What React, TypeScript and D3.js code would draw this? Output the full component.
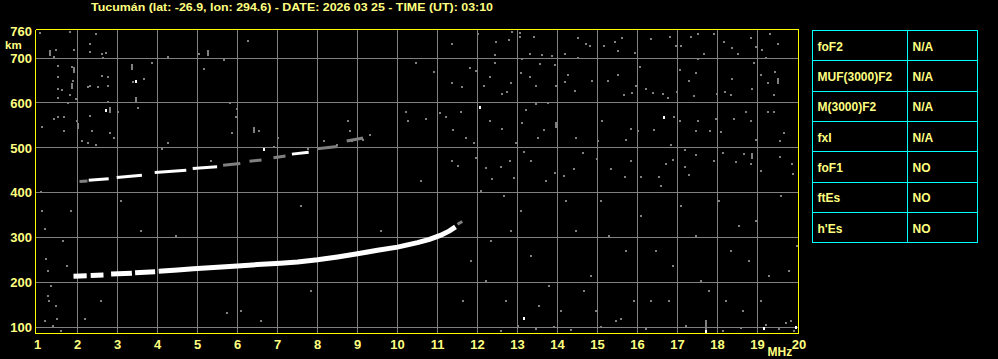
import React from 'react';
import * as d3 from 'd3';

const TITLE = 'Tucumán (lat: -26.9, lon: 294.6) - DATE: 2026 03 25 - TIME (UT): 03:10';
const freqTicks = [1, 2, 3, 4, 5, 6, 7, 8, 9, 10, 11, 12, 13, 14, 15, 16, 17, 18, 19, 20];
const heightTicks = [100, 200, 300, 400, 500, 600, 700];
const topHeightLabel = 760;

const paramNames = ['foF2', 'MUF(3000)F2', 'M(3000)F2', 'fxI', 'foF1', 'ftEs', "h'Es"];
const paramValues = ['N/A', 'N/A', 'N/A', 'N/A', 'NO', 'NO', 'NO'];

// F-layer trace (frequency MHz, virtual height km), split where the echo is broken
const fTraceSegments: [number, number][][] = [
  [[1.9, 214], [2.23, 215]],
  [[2.33, 216], [2.65, 217]],
  [[2.84, 219], [3.36, 221]],
  [[3.44, 222], [3.94, 224]],
  [[4.03, 225], [4.5, 228], [4.9, 231], [5.5, 234], [6.0, 237], [6.5, 240], [7.07, 243], [7.5, 246],
   [8.0, 251], [8.5, 257], [9.0, 264], [9.5, 272], [10.0, 279], [10.5, 289], [10.8, 296],
   [11.07, 305], [11.3, 315], [11.45, 324]],
];

// second-hop echo
const hopWhiteSegments: [number, number][][] = [
  [[2.28, 428], [2.78, 431]],
  [[2.98, 434], [3.61, 439]],
  [[3.93, 445], [4.72, 450]],
  [[4.88, 454], [5.49, 458]],
  [[7.36, 486], [7.78, 490]],
];
const hopGraySegments: [number, number][][] = [
  [[2.05, 425], [2.25, 426]],
  [[5.64, 461], [6.07, 465]],
  [[6.3, 470], [6.6, 473]],
  [[6.9, 478], [7.2, 482]],
  [[7.99, 498], [8.5, 503]],
  [[8.73, 515], [9.14, 522]],
  [[11.5, 330], [11.62, 336]],
];

const noiseDots: [number, number][] = [
  [1.03, 757], [1.44, 719], [1.38, 705], [1.78, 759], [1.88, 719], [2.29, 733], [2.43, 755], [2.29, 715],
  [2.59, 711], [2.62, 702], [2.69, 714], [1.49, 685], [1.84, 682], [1.49, 660], [1.86, 650], [1.49, 633],
  [1.59, 630], [1.78, 619], [1.49, 614], [1.94, 611], [1.74, 602], [2.59, 663], [2.73, 660], [2.29, 641],
  [2.24, 637], [2.49, 637], [2.73, 641], [2.73, 605], [3.37, 648], [3.64, 655], [3.84, 690], [3.49, 592],
  [4.24, 705], [5.0, 711], [5.13, 677], [5.63, 697], [6.23, 741], [5.78, 602], [5.97, 588], [5.94, 570],
  [5.84, 535], [6.98, 525], [6.88, 503], [7.73, 499], [8.13, 517], [8.27, 502], [8.47, 508], [8.83, 517],
  [9.12, 519], [9.29, 530], [8.79, 540], [8.74, 561], [10.19, 583], [10.24, 561], [10.44, 690],
  [1.09, 548], [1.38, 566], [1.49, 570], [1.64, 570], [1.64, 539], [1.95, 561], [2.29, 574], [2.34, 539],
  [2.09, 517], [2.24, 513], [2.44, 508], [2.78, 535], [2.89, 525], [2.98, 583], [4.24, 513], [4.09, 500],
  [11.34, 733], [11.98, 755], [12.4, 709], [12.44, 737], [12.75, 743], [12.84, 759], [13.04, 757],
  [13.04, 750], [13.38, 750], [13.09, 700], [13.29, 711], [13.58, 708], [13.83, 706], [14.15, 711],
  [14.48, 746], [14.48, 702], [14.69, 733], [14.79, 728], [15.13, 730], [15.4, 737], [15.49, 718],
  [15.59, 746], [15.9, 714], [16.32, 745], [16.78, 748], [16.94, 730], [17.07, 728], [17.32, 750],
  [17.49, 755], [17.49, 699], [17.64, 711], [17.89, 755], [18.14, 737], [18.34, 724], [18.49, 711],
  [18.82, 746], [18.94, 726], [19.08, 720], [19.19, 703], [19.29, 755], [19.48, 733],
  [10.88, 671], [11.34, 646], [11.59, 637], [11.79, 680], [11.94, 674], [12.13, 641], [12.28, 659],
  [12.42, 690], [12.58, 622], [12.72, 626], [12.8, 646], [13.05, 668], [13.29, 659], [13.43, 641],
  [13.53, 688], [13.92, 687], [13.94, 640], [14.17, 648], [14.24, 665], [14.4, 628], [14.84, 650],
  [15.24, 650], [15.49, 665], [15.64, 620], [15.84, 624], [15.93, 641], [16.03, 682], [16.19, 634],
  [16.37, 624], [16.61, 622], [16.73, 614], [16.95, 626], [17.03, 676], [17.27, 650], [17.38, 618],
  [17.44, 668], [17.97, 622], [18.17, 626], [18.32, 620], [18.34, 655], [18.84, 634], [18.89, 690],
  [19.05, 665], [19.24, 646], [19.39, 619], [19.4, 672],
  [10.69, 567], [11.03, 580], [11.19, 570], [11.36, 543], [11.55, 583], [11.69, 525], [11.89, 513],
  [12.29, 561], [12.58, 544], [12.94, 513], [13.09, 557], [13.19, 587], [13.44, 600], [13.49, 525],
  [13.64, 541], [13.74, 602], [14.44, 525], [14.98, 517], [15.09, 561], [15.69, 520], [15.8, 544],
  [15.98, 539], [16.39, 541], [16.9, 570], [17.03, 561], [16.8, 508], [17.15, 498], [17.44, 539],
  [17.49, 561], [17.78, 539], [17.94, 567], [18.07, 537], [18.39, 567], [18.69, 583], [18.8, 561],
  [18.94, 520], [19.24, 583], [19.39, 583], [19.53, 517], [19.64, 535],
  [11.34, 472], [11.49, 461], [11.94, 480], [12.19, 457], [12.34, 432], [12.57, 459], [12.78, 472],
  [12.88, 435], [13.13, 494], [13.32, 472], [13.9, 446], [14.14, 439], [14.39, 456], [14.61, 491],
  [14.97, 477], [15.3, 456], [15.65, 437], [15.8, 472], [16.05, 437], [16.5, 437], [16.69, 466],
  [16.86, 476], [17.15, 459], [17.27, 441], [17.44, 486], [17.89, 472], [18.11, 491], [18.44, 471],
  [18.63, 488], [18.82, 466], [19.05, 450], [19.53, 481], [19.84, 466], [19.86, 443],
  [1.09, 361], [1.17, 321], [1.19, 254], [1.24, 228], [1.32, 194], [1.27, 161], [1.44, 150], [1.17, 117],
  [1.37, 106], [1.57, 95], [1.07, 405], [1.62, 294], [1.72, 239], [1.47, 121], [1.24, 172], [2.17, 121],
  [2.57, 161], [1.82, 361], [4.44, 306], [5.72, 134], [3.57, 316], [5.32, 472], [6.5, 539], [3.07, 383],
  [7.57, 372], [9.57, 317], [10.57, 428], [6.57, 117], [7.82, 183], [6.07, 139],
  [12.07, 406], [12.32, 294], [12.69, 161], [13.07, 361], [13.32, 261], [13.69, 428], [14.07, 139],
  [14.44, 317], [14.82, 217], [15.07, 383], [15.44, 117], [15.69, 272], [16.07, 350], [16.32, 161],
  [16.57, 417], [16.87, 239], [17.19, 106], [17.44, 306], [17.77, 183], [18.02, 383], [18.32, 272],
  [18.62, 139], [18.94, 339], [19.27, 217], [19.57, 394], [19.82, 117], [19.97, 283], [11.82, 250],
  [11.62, 161], [12.57, 94], [12.99, 106], [13.44, 99], [13.89, 103], [14.32, 97], [15.07, 103],
  [15.57, 121], [16.19, 99], [18.12, 94], [18.57, 101], [19.19, 108], [19.52, 99], [19.69, 112],
  [19.89, 94], [12.19, 206], [12.82, 316], [13.77, 194], [14.19, 383], [14.64, 183], [15.27, 306],
  [15.89, 161], [16.44, 272], [17.07, 372], [17.57, 206], [18.19, 161], [18.77, 250], [19.07, 161],
  [19.77, 228], [12.64, 394], [13.52, 150], [14.94, 139], [16.77, 161], [18.52, 328],
];

const noiseStreaks: [number, number][] = [
  [1.29, 713], [1.88, 675], [3.34, 683], [3.43, 608], [2.78, 586], [6.39, 541], [5.24, 713], [1.98, 550],
  [17.69, 112], [17.69, 98], [1.84, 639], [13.94, 553], [18.84, 483], [19.48, 650],
];

const brightDots: [number, number][] = [
  [3.44, 650], [2.68, 586], [16.65, 570], [12.04, 593], [6.63, 500], [13.13, 123], [17.69, 94],
  [19.13, 102], [19.94, 103],
];

const W = 998;
const H = 359;
const TEXT = '#FFFF80';
const FRAME = '#FFFF00';
const GRID = '#808080';
const FONT = '"Liberation Sans", Arial, sans-serif';

export default function App() {
  const x = d3.scaleLinear().domain([1, 20]).range([37.5, 797.5]);
  const y = d3.scaleLinear().domain([100, 700]).range([327.5, 58]);
  const line = d3.line<[number, number]>().x(d => x(d[0])).y(d => y(d[1]));
  const px = (v: number) => Math.floor(v) + 0.5;

  const left = 35.5, right = 798.5, top = 29.5, bottom = 333.5;

  const tableX0 = 812.5, tableX1 = 977.5, tableColX = 907.5, tableY0 = 30.5, rowH = 30.3;

  return (
    <svg width={W} height={H} style={{ position: 'absolute', left: 0, top: 0, background: '#000' }}
      fontFamily={FONT} fontWeight="bold">
      <rect x={0} y={0} width={W} height={H} fill="#000" />
      <text x={91} y={10.7} fill={TEXT} fontSize={11} textLength={402} lengthAdjust="spacingAndGlyphs">{TITLE}</text>

      {/* grid */}
      <g stroke={GRID} strokeWidth={1} shapeRendering="crispEdges">
        {freqTicks.filter(f => f > 1 && f < 20).map(f => (
          <line key={'v' + f} x1={px(x(f))} x2={px(x(f))} y1={top} y2={bottom} />
        ))}
        {heightTicks.map(h => (
          <line key={'h' + h} x1={left} x2={right} y1={px(y(h))} y2={px(y(h))} />
        ))}
      </g>

      {/* noise */}
      <g fill={GRID} shapeRendering="crispEdges">
        {noiseDots.map((d, i) => (
          <rect key={'n' + i} x={Math.round(x(d[0]))} y={Math.round(y(d[1]))} width={2} height={2} />
        ))}
        {noiseStreaks.map((d, i) => (
          <rect key={'s' + i} x={Math.round(x(d[0]))} y={Math.round(y(d[1])) - 2} width={2} height={6} />
        ))}
      </g>

      {/* echo traces */}
      <g fill="none" strokeLinecap="butt">
        {hopGraySegments.map((s, i) => (
          <path key={'hg' + i} d={line(s) || ''} stroke={GRID} strokeWidth={3} />
        ))}
        {hopWhiteSegments.map((s, i) => (
          <path key={'hw' + i} d={line(s) || ''} stroke="#fff" strokeWidth={3} />
        ))}
        {fTraceSegments.map((s, i) => (
          <path key={'f' + i} d={line(s) || ''} stroke="#fff" strokeWidth={5} />
        ))}
      </g>
      <g fill="#fff" shapeRendering="crispEdges">
        {brightDots.map((d, i) => (
          <rect key={'b' + i} x={Math.round(x(d[0]))} y={Math.round(y(d[1]))} width={2} height={3} />
        ))}
      </g>

      {/* frame */}
      <g stroke={FRAME} strokeWidth={1} shapeRendering="crispEdges">
        <line x1={left} x2={left} y1={top} y2={bottom} />
        <line x1={right} x2={right} y1={top} y2={bottom} />
        <line x1={left} x2={right} y1={top} y2={top} />
        <line x1={left} x2={right} y1={bottom} y2={bottom} />
      </g>

      {/* y labels */}
      <g fill={TEXT} fontSize={13} textAnchor="end">
        <text x={32} y={y(topHeightLabel) + 4.7}>{topHeightLabel}</text>
        {heightTicks.map(h => (
          <text key={'yl' + h} x={32} y={y(h) + 4.7}>{h}</text>
        ))}
      </g>
      <text x={5} y={48.5} fill={TEXT} fontSize={11.5}>km</text>

      {/* x labels */}
      <g fill={TEXT} fontSize={13} textAnchor="middle">
        {freqTicks.map(f => (
          <text key={'xl' + f} x={f === 20 ? x(f) + 1.5 : x(f)} y={348.5}>{f}</text>
        ))}
      </g>
      <text x={767.5} y={355.7} fill={TEXT} fontSize={12}>MHz</text>

      {/* parameter table */}
      <g stroke="#00FFFF" strokeWidth={1} shapeRendering="crispEdges" fill="none">
        <rect x={tableX0} y={tableY0} width={tableX1 - tableX0} height={rowH * paramNames.length} />
        <line x1={tableColX} x2={tableColX} y1={tableY0} y2={tableY0 + rowH * paramNames.length} />
        {paramNames.slice(1).map((_, i) => (
          <line key={'r' + i} x1={tableX0} x2={tableX1} y1={Math.floor(tableY0 + rowH * (i + 1)) + 0.5}
            y2={Math.floor(tableY0 + rowH * (i + 1)) + 0.5} />
        ))}
      </g>
      <g fill={TEXT} fontSize={12}>
        {paramNames.map((p, i) => (
          <text key={'p' + i} x={817.5} y={tableY0 + rowH * i + 20.3}>{p}</text>
        ))}
        {paramValues.map((v, i) => (
          <text key={'v' + i} x={912.5} y={tableY0 + rowH * i + 20.3}>{v}</text>
        ))}
      </g>
    </svg>
  );
}
